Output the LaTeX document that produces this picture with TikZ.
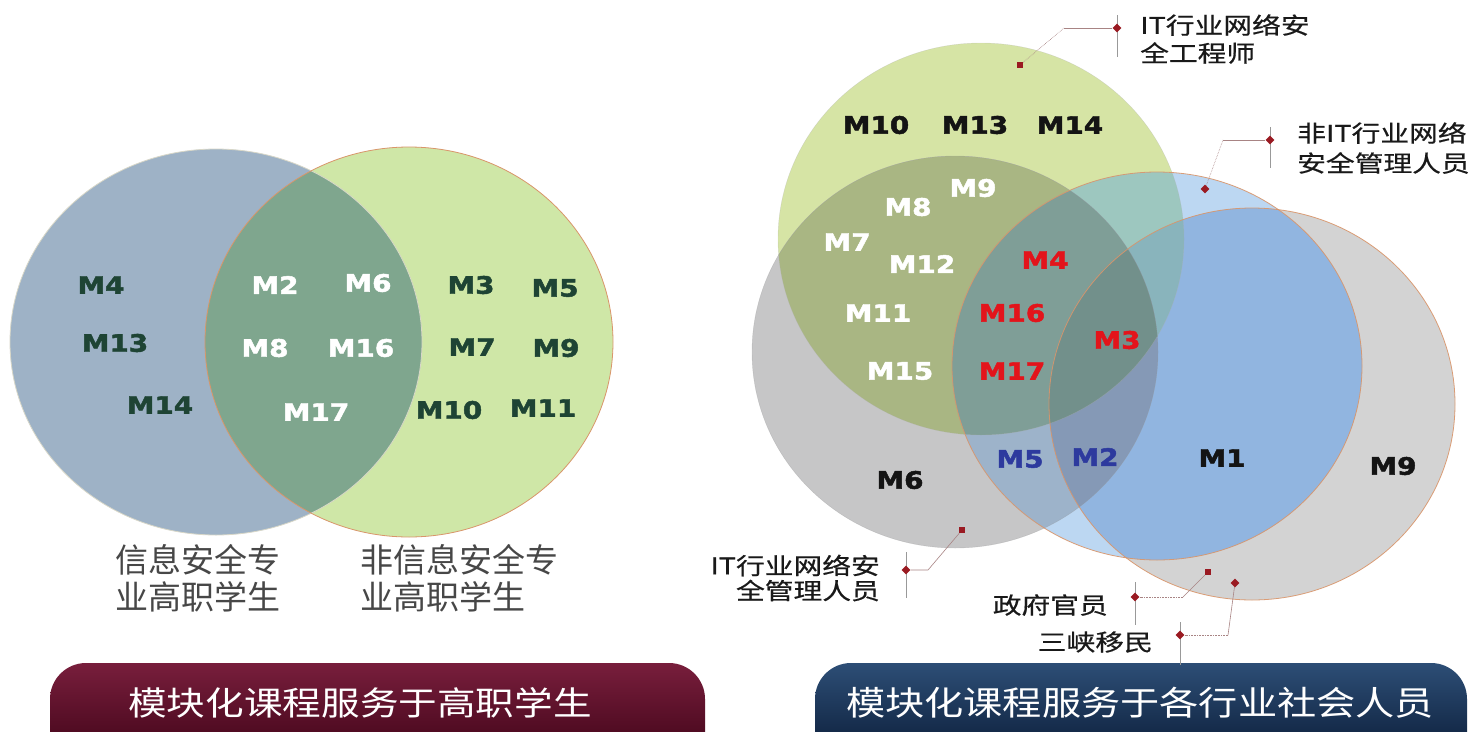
\documentclass[tikz,border=0pt]{standalone}
\usepackage{fontspec}
\newfontfamily\cjk{Noto Sans CJK SC}
\newfontfamily\cjkw{Noto Sans CJK SC}[FakeStretch=1.25, FakeBold=0.6]
\newfontfamily\cjkb{Noto Sans CJK SC}[FakeStretch=1.17]
\newfontfamily\mfont{DejaVu Sans}[FakeStretch=1.16, FakeBold=2]
\usetikzlibrary{shapes.geometric}
\definecolor{lblue}{HTML}{9EB2C6}
\definecolor{lgreen}{HTML}{CFE7A7}
\definecolor{lmix}{HTML}{7FA68E}
\definecolor{cA}{HTML}{D6E4A5}
\definecolor{cB}{HTML}{C6C6C7}
\definecolor{cC}{HTML}{BCD7F2}
\definecolor{cD}{HTML}{D3D3D3}
\definecolor{cAB}{HTML}{A9B683}
\definecolor{cAC}{HTML}{9DC7BF}
\definecolor{cAD}{HTML}{B4C69C}
\definecolor{cBC}{HTML}{9DB3CA}
\definecolor{cBD}{HTML}{A9AAB0}
\definecolor{cCD}{HTML}{91B5E0}
\definecolor{cABC}{HTML}{7F9E97}
\definecolor{cABD}{HTML}{8E9C80}
\definecolor{cACD}{HTML}{89B4BC}
\definecolor{cBCD}{HTML}{8599B6}
\definecolor{cABCD}{HTML}{72908B}
\definecolor{dred}{HTML}{9A1A22}
\definecolor{lbl}{HTML}{1E4434}
\definecolor{mred}{HTML}{E3141B}
\definecolor{mblue}{HTML}{2D3A9E}
\definecolor{olor}{HTML}{D9956A}
\definecolor{lnc}{HTML}{A88484}
\begin{document}
\begin{tikzpicture}[x=1pt,y=-1pt,
  ml/.style={font=\mfont\bfseries\fontsize{24}{24}\selectfont, inner sep=0pt},
  mlk/.style={ml, text=black!92},
  mlw/.style={ml, text=white},
  mlr/.style={ml, text=mred},
  mlb/.style={ml, text=mblue},
  mld/.style={ml, text=lbl},
  sqm/.style={rectangle, fill=dred, minimum size=6pt, inner sep=0pt},
  dmd/.style={diamond, fill=dred, minimum size=9pt, inner sep=0pt},
  cl/.style={draw=lnc, line width=0.6pt},
  cld/.style={cl, densely dotted},
  vl/.style={draw=black!40, line width=0.6pt},
  ct/.style={text=black!90, inner sep=0pt},
  lt/.style={font=\cjk\fontsize{33}{37}\selectfont, text=black!72, inner sep=0pt, align=left},
  bt/.style={font=\cjkb\fontsize{33}{33}\selectfont, text=white, inner sep=0pt}
]
\useasboundingbox (0,0) rectangle (1474,731);
\fill[white] (0,0) rectangle (1474,731);

% ---------- left Venn ----------
\def\LA{(216,342) ellipse [x radius=206pt, y radius=193pt]}
\def\LB{(409,342) ellipse [x radius=204pt, y radius=195pt]}
\fill[lblue] \LA;
\fill[lgreen] \LB;
\begin{scope}\clip \LA; \fill[lmix] \LB; \end{scope}
\draw[line width=0.8pt, draw=yellow!30!black!25] \LA;
\draw[line width=0.8pt, draw=olor] \LB;

\node[mld] (l4) at (101,285) {M4};
\node[mld] (l13) at (115,343) {M13};
\node[mld] (l14) at (160,405) {M14};
\node[mlw] (l2) at (275,285) {M2};
\node[mlw] (l6) at (368,283) {M6};
\node[mlw] (l8) at (265,348) {M8};
\node[mlw] (l16) at (361,348) {M16};
\node[mlw] (l17) at (316,412) {M17};
\node[mld] (l3) at (471,285) {M3};
\node[mld] (l5) at (555,288) {M5};
\node[mld] (l7) at (472,347) {M7};
\node[mld] (l9) at (556,348) {M9};
\node[mld] (l10) at (449,410) {M10};
\node[mld] (l11) at (543,408) {M11};

\node[lt, anchor=west] (lta) at (115,578) {信息安全专\\业高职学生};
\node[lt, anchor=west] (ltb) at (360,578) {非信息安全专\\业高职学生};

% ---------- right Venn ----------
\def\RA{(981,239) ellipse [x radius=203pt, y radius=196pt]}
\def\RB{(955,352) ellipse [x radius=203pt, y radius=196pt]}
\def\RC{(1157,366) ellipse [x radius=205pt, y radius=194pt]}
\def\RD{(1252,404) ellipse [x radius=203pt, y radius=196pt]}
\fill[cA] \RA; \fill[cB] \RB; \fill[cC] \RC; \fill[cD] \RD;
\begin{scope}\clip\RA; \fill[cAB]\RB; \end{scope}
\begin{scope}\clip\RA; \fill[cAC]\RC; \end{scope}
\begin{scope}\clip\RA; \fill[cAD]\RD; \end{scope}
\begin{scope}\clip\RB; \fill[cBC]\RC; \end{scope}
\begin{scope}\clip\RB; \fill[cBD]\RD; \end{scope}
\begin{scope}\clip\RC; \fill[cCD]\RD; \end{scope}
\begin{scope}\clip\RA; \clip\RB; \fill[cABC]\RC; \end{scope}
\begin{scope}\clip\RA; \clip\RB; \fill[cABD]\RD; \end{scope}
\begin{scope}\clip\RA; \clip\RC; \fill[cACD]\RD; \end{scope}
\begin{scope}\clip\RB; \clip\RC; \fill[cBCD]\RD; \end{scope}
\begin{scope}\clip\RA; \clip\RB; \clip\RC; \fill[cABCD]\RD; \end{scope}
\draw[line width=0.4pt, draw=black!30, opacity=0.4] \RA;
\draw[line width=0.4pt, draw=black!40, opacity=0.4] \RB;
\draw[line width=0.8pt, draw=olor, opacity=0.9] \RC;
\draw[line width=0.8pt, draw=olor, opacity=0.9] \RD;

\node[mlk] (r10) at (876,125) {M10};
\node[mlk] (r13) at (975,125) {M13};
\node[mlk] (r14) at (1070,125) {M14};
\node[mlw] (r9) at (973,188) {M9};
\node[mlw] (r8) at (908,207) {M8};
\node[mlw] (r7) at (847,242) {M7};
\node[mlw] (r12) at (922,264) {M12};
\node[mlw] (r11) at (878,313) {M11};
\node[mlw] (r15) at (900,371) {M15};
\node[mlr] (r4) at (1045,260) {M4};
\node[mlr] (r16) at (1012,313) {M16};
\node[mlr] (r17) at (1012,371) {M17};
\node[mlr] (r3) at (1117,340) {M3};
\node[mlb] (r5) at (1020,459) {M5};
\node[mlb] (r2) at (1095,457) {M2};
\node[mlk] (r1) at (1222,458) {M1};
\node[mlk] (r9b) at (1393,466) {M9};
\node[mlk] (r6) at (900,480) {M6};

% ---------- banners ----------
\shade[top color={rgb,255:red,120;green,30;blue,60}, middle color={rgb,255:red,86;green,6;blue,34}, bottom color={rgb,255:red,55;green,0;blue,18}, rounded corners=36pt] (50,663) rectangle (705,775);
\node[bt] (b1) at (360,703) {模块化课程服务于高职学生};
\shade[top color={rgb,255:red,45;green,78;blue,118}, middle color={rgb,255:red,14;green,40;blue,76}, bottom color={rgb,255:red,5;green,20;blue,45}, rounded corners=36pt] (815,663) rectangle (1467,775);
\node[bt, font=\cjkb\fontsize{33.5}{33.5}\selectfont] (b2) at (1140,703) {模块化课程服务于各行业社会人员};

% ---------- callouts ----------
% 1
\coordinate (v1a) at (1117,15); \coordinate (v1b) at (1117,57);
\draw[vl] (v1a) -- (v1b);
\node[sqm] (m1) at (1020,65) {};
\coordinate (k1) at (1064,28);
\node[dmd] (d1) at (1117,28) {};
\draw[cld] (m1) -- (k1);
\draw[cl] (k1) -- (d1);
\node[ct, anchor=west, align=left, font=\cjkw\fontsize{23}{28}\selectfont] (t1) at (1140,39) {IT行业网络安\\全工程师};
% 2
\coordinate (v2a) at (1270,127); \coordinate (v2b) at (1270,168);
\draw[vl] (v2a) -- (v2b);
\node[dmd] (m2) at (1205,189) {};
\coordinate (k2) at (1223,140);
\node[dmd] (d2) at (1270,140) {};
\draw[cld] (m2) -- (k2);
\draw[cl] (k2) -- (d2);
\node[ct, anchor=west, align=left, font=\cjkw\fontsize{23}{30}\selectfont] (t2) at (1297,148) {非IT行业网络\\安全管理人员};
% 3
\coordinate (v3a) at (906,552); \coordinate (v3b) at (906,598);
\draw[vl] (v3a) -- (v3b);
\node[sqm] (m3) at (962,530) {};
\coordinate (k3) at (928,570);
\node[dmd] (d3) at (906,570) {};
\draw[cl] (m3) -- (k3) -- (d3);
\node[ct, anchor=east, align=right, font=\cjkw\fontsize{23}{25}\selectfont] (t3) at (880,578) {IT行业网络安\\全管理人员};
% 4
\coordinate (v4a) at (1135,582); \coordinate (v4b) at (1135,625);
\draw[vl] (v4a) -- (v4b);
\node[sqm] (m4) at (1208,572) {};
\coordinate (k4) at (1183,597);
\node[dmd] (d4) at (1135,597) {};
\draw[cl] (m4) -- (k4);
\draw[cld] (k4) -- (d4);
\node[ct, anchor=east, font=\cjkw\fontsize{23}{25}\selectfont] (t4) at (1108,605) {政府官员};
% 5
\coordinate (v5a) at (1180,622); \coordinate (v5b) at (1180,665);
\draw[vl] (v5a) -- (v5b);
\node[dmd] (m5) at (1235,583) {};
\coordinate (k5) at (1228,635);
\node[dmd] (d5) at (1180,635) {};
\draw[cl] (m5) -- (k5);
\draw[cld] (k5) -- (d5);
\node[ct, anchor=east, font=\cjkw\fontsize{23}{25}\selectfont] (t5) at (1153,642) {三峡移民};
\end{tikzpicture}
\end{document}
